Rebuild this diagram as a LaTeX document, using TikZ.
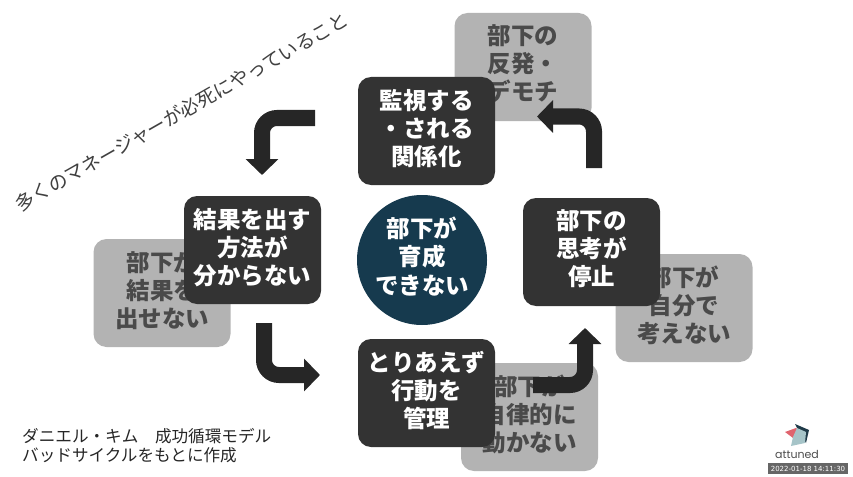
\documentclass[tikz,border=0pt]{standalone}
\usepackage{fontspec}
\setmainfont{Noto Sans CJK JP}
\newfontfamily\logofont{Poppins}
\newfontfamily\stampfont{DejaVu Sans}
\usetikzlibrary{arrows.meta}
\definecolor{darkbox}{HTML}{333333}
\definecolor{graybox}{HTML}{B3B3B3}
\definecolor{graytext}{HTML}{4A4A4A}
\definecolor{hubfill}{HTML}{163A4E}
\definecolor{logodark}{HTML}{1F3A48}
\definecolor{logored}{HTML}{E0646E}
\definecolor{logoblue}{HTML}{A6C4C8}
\tikzset{
  cause/.style = {rectangle, rounded corners = 13pt, fill = darkbox, text = white,
                  minimum width = 137pt, minimum height = 108pt, align = center, inner sep = 0pt,
                  text depth = 8pt, font = \fontsize{23.5}{28}\selectfont\bfseries},
  effect/.style = {cause, fill = graybox, text = graytext},
  flow/.style = {draw = black!85, line width = 16pt, rounded corners = 15pt,
                 -{Triangle[width = 32pt, length = 16pt]}},
  note/.style = {inner sep = 0pt, text = black!85, font = \fontsize{16.6}{19}\selectfont}
}
\begin{document}
\begin{tikzpicture}[x = 1pt, y = -1pt]
  \useasboundingbox (0,0) rectangle (853,476);
  % gray results behind
  \node [effect] (backlash) at (523,67) {部下の\\反発・\\デモチ};
  \node [effect] (noresult) at (162,293) {部下が\\結果を\\出せない};
  \node [effect] (nothink) at (684,308) {部下が\\自分で\\考えない};
  \node [effect] (nomove) at (529.5,417) {部下が\\自律的に\\動かない};
  % the cycle
  \node [cause] (watch) at (426.5,131) {監視する\\・される\\関係化};
  \node [cause] (how) at (252.5,250) {結果を出す\\方法が\\分からない};
  \node [cause] (manage) at (426.5,393) {とりあえず\\行動を\\管理};
  \node [cause] (stop) at (591.5,252) {部下の\\思考が\\停止};
  \node [circle, fill = hubfill, text = white, minimum width = 130pt, inner sep = 0pt,
         align = center, text depth = 9pt, font = \fontsize{23.5}{28.5}\selectfont\bfseries]
    (hub) at (422,260) {部下が\\育成\\できない};
  % arrows
  \coordinate (flowAs) at (315,118);
  \coordinate (flowAc) at (262,118);
  \coordinate (flowAe) at (262,175);
  \draw [flow] (flowAs) -- (flowAc) -- (flowAe);
  \coordinate (flowBs) at (264,323);
  \coordinate (flowBc) at (264,375);
  \coordinate (flowBe) at (320,375);
  \draw [flow] (flowBs) -- (flowBc) -- (flowBe);
  \coordinate (flowCs) at (533,385);
  \coordinate (flowCc) at (585,385);
  \coordinate (flowCe) at (585,328);
  \draw [flow] (flowCs) -- (flowCc) -- (flowCe);
  \coordinate (flowDs) at (594,168);
  \coordinate (flowDc) at (594,116.5);
  \coordinate (flowDe) at (537,116.5);
  \draw [flow] (flowDs) -- (flowDc) -- (flowDe);
  % texts
  \node [note, rotate = 29.7, text = black!75, font = \fontsize{19.1}{22}\selectfont] (slant) at (181.5,112)
    {多くのマネージャーが必死にやっていること};
  \node [note, anchor = west] (source) at (22,436) {ダニエル・キム　成功循環モデル};
  \node [note, anchor = west] (sourceb) at (22,455) {バッドサイクルをもとに作成};
  % logo
  \fill [logodark] (795,424) -- (809,430) -- (806,443) -- (797,428) -- cycle;
  \fill [logored] (785,432) -- (796,428) -- (802,433) -- (793,438) -- cycle;
  \fill [logoblue] (797,428) -- (806,432) -- (805,443) -- (791,446) -- (793,437) -- cycle;
  \node [inner sep = 0pt, text = black!70, font = \logofont\fontsize{11}{12}\selectfont] (logo) at (797,454) {attuned};
  \node [fill = black!60, text = white, minimum width = 80pt, minimum height = 11pt, inner sep = 0pt,
         font = \stampfont\fontsize{7}{8}\selectfont] (stamp) at (808,468.5) {2022-01-18 14:11:30};
\end{tikzpicture}
\end{document}
